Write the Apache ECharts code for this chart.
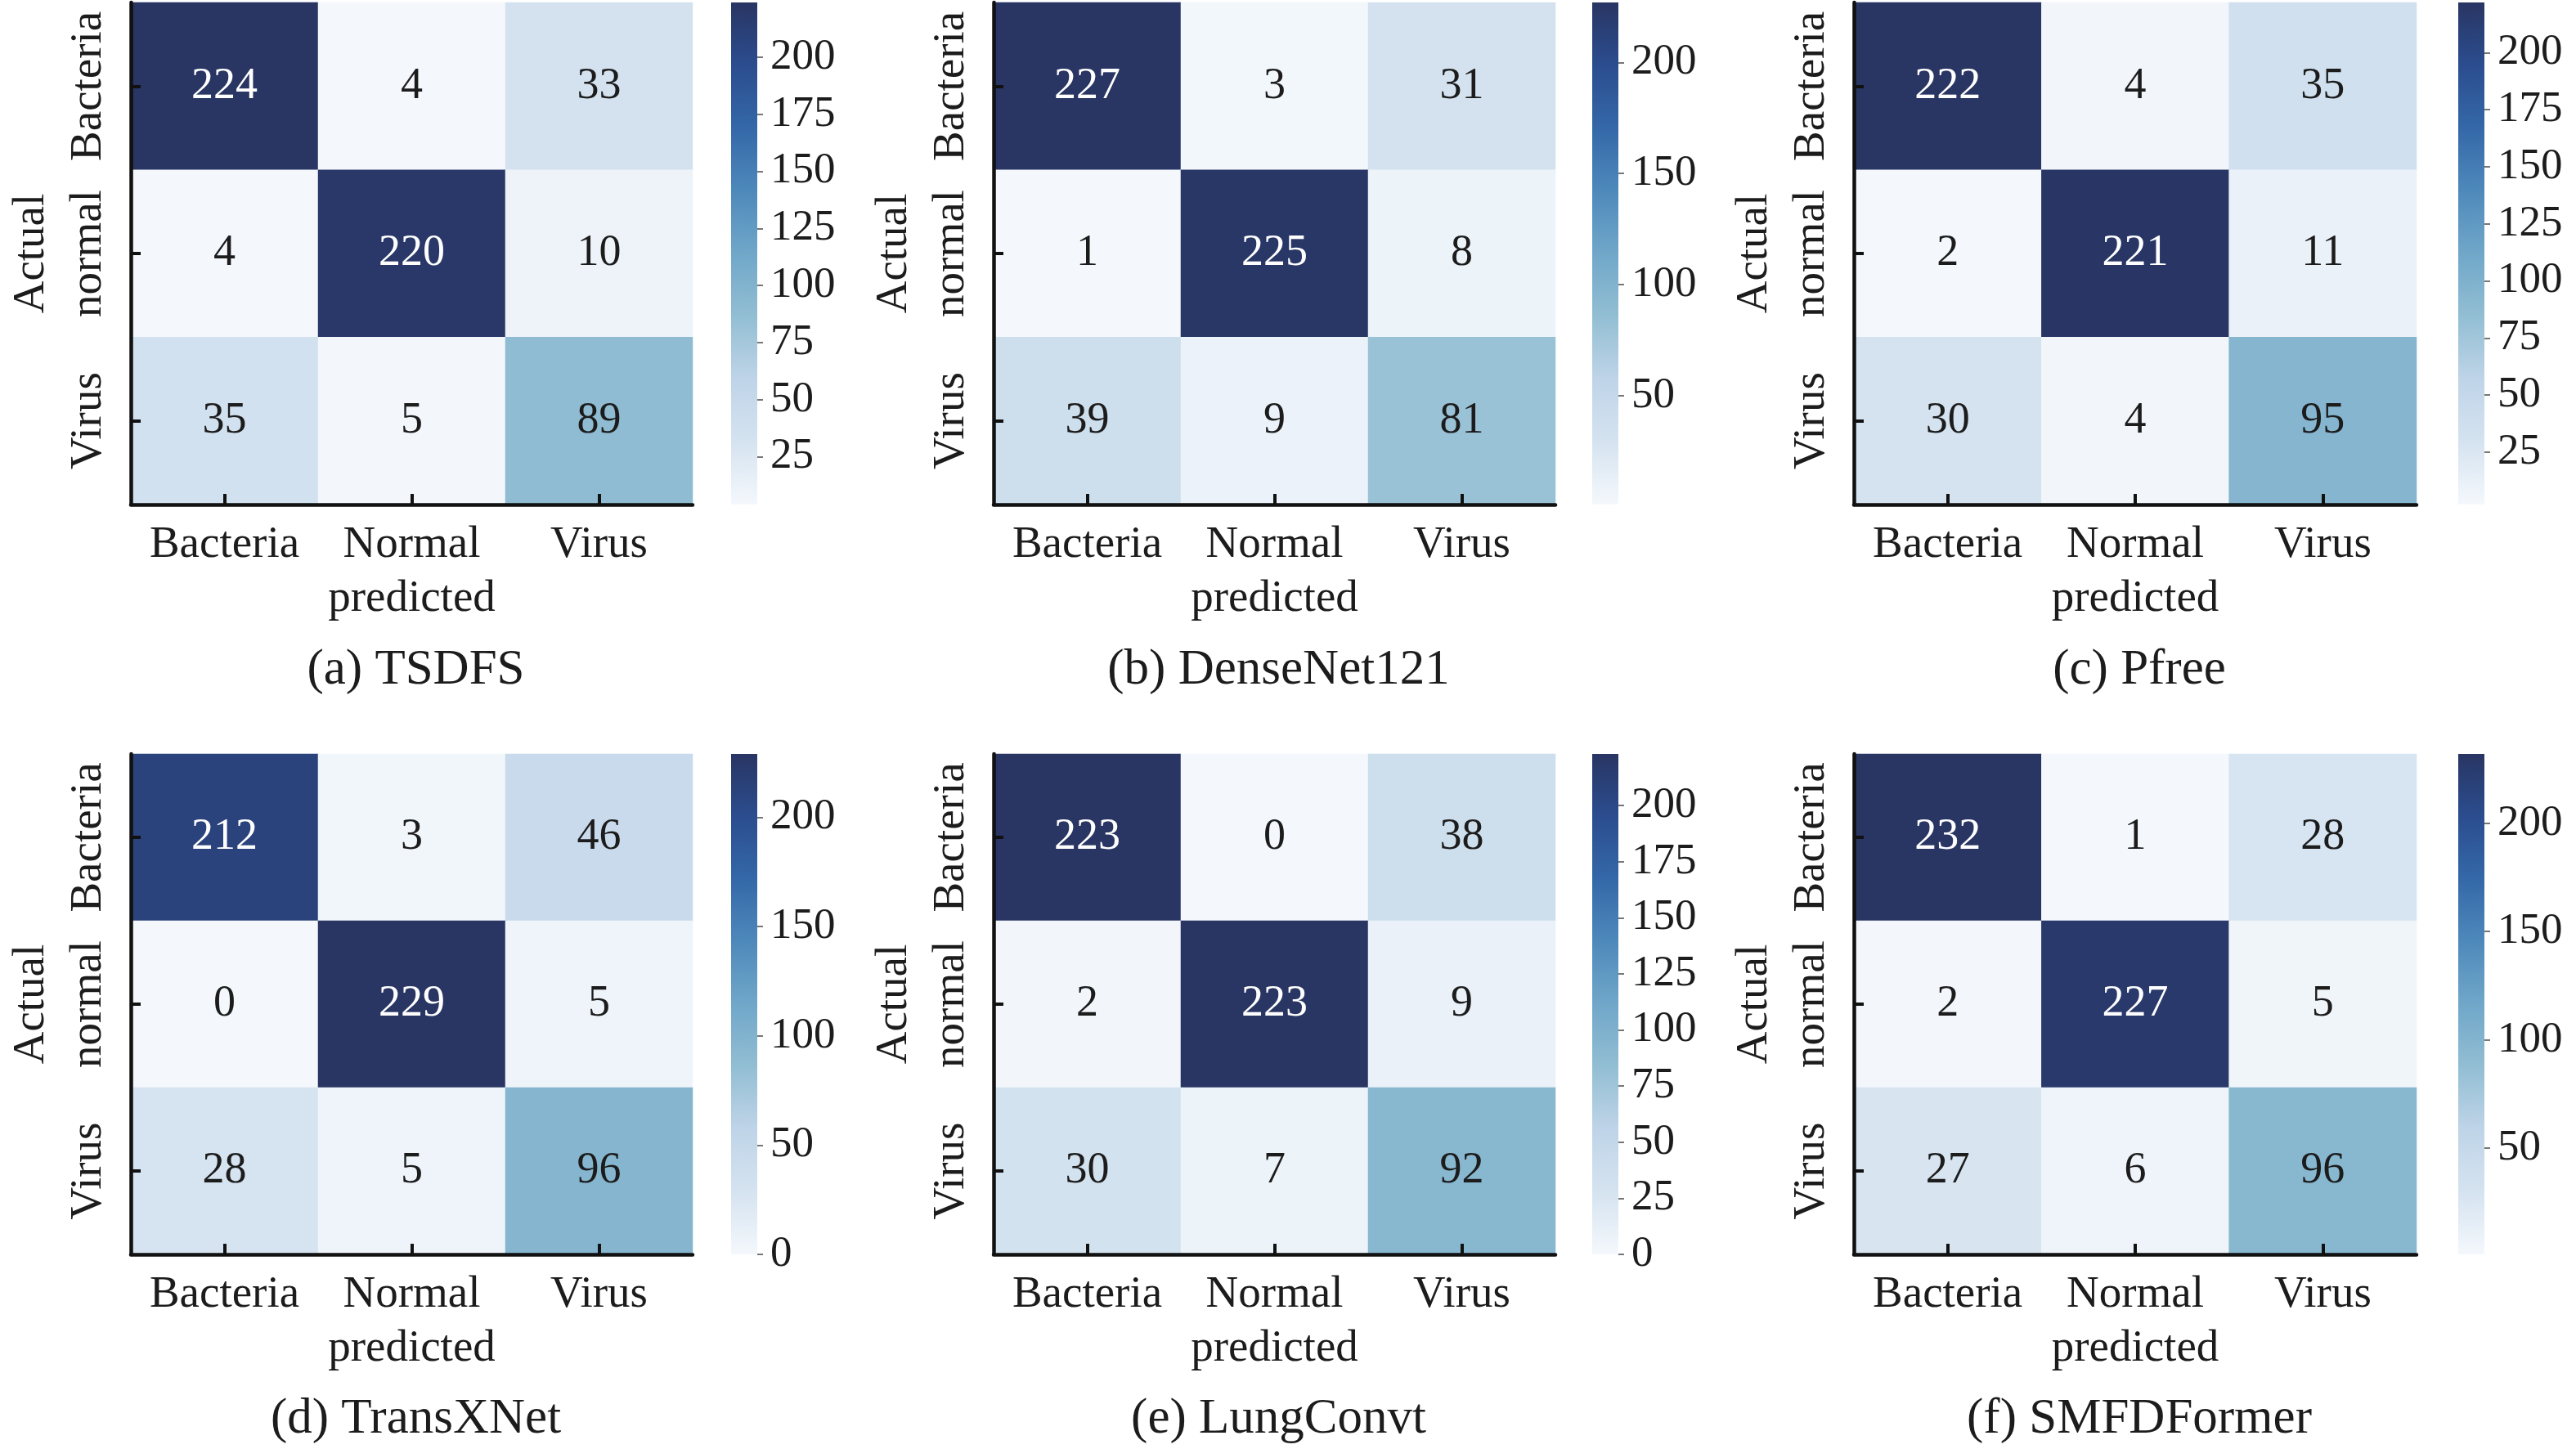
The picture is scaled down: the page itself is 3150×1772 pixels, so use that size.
<!DOCTYPE html>
<html><head><meta charset="utf-8">
<script src="https://cdn.jsdelivr.net/npm/echarts@6/dist/echarts.min.js"></script>
<style>html,body{margin:0;padding:0;background:#fff}#c{width:3150px;height:1772px}</style>
</head><body><div id="c"></div>
<script>
// ---------- data ----------
const predictedLabels = ['Bacteria', 'Normal', 'Virus'];
const actualLabels = ['Bacteria', 'normal', 'Virus'];
const captions = ['(a) TSDFS', '(b) DenseNet121', '(c) Pfree', '(d) TransXNet', '(e) LungConvt', '(f) SMFDFormer'];
const tsdfs      = [[224, 4, 33], [4, 220, 10], [35, 5, 89]];
const densenet   = [[227, 3, 31], [1, 225, 8], [39, 9, 81]];
const pfree      = [[222, 4, 35], [2, 221, 11], [30, 4, 95]];
const transxnet  = [[212, 3, 46], [0, 229, 5], [28, 5, 96]];
const lungconvt  = [[223, 0, 38], [2, 223, 9], [30, 7, 92]];
const smfdformer = [[232, 1, 28], [2, 227, 5], [27, 6, 96]];
const matrices = [tsdfs, densenet, pfree, transxnet, lungconvt, smfdformer];
const ticksA = [25, 50, 75, 100, 125, 150, 175, 200];
const ticksB = [50, 100, 150, 200];
const ticksC = [25, 50, 75, 100, 125, 150, 175, 200];
const ticksD = [0, 50, 100, 150, 200];
const ticksE = [0, 25, 50, 75, 100, 125, 150, 175, 200];
const ticksF = [50, 100, 150, 200];
const colorbarTicks = [ticksA, ticksB, ticksC, ticksD, ticksE, ticksF];

// ---------- style / layout ----------
const FONT = "'Liberation Serif', 'Times New Roman', 'DejaVu Serif', serif";
const TXT = '#1c1c1c';
const cmap = ['#f4f8fc', '#d5e3f0', '#bfd4e8', '#92bed3', '#70a7c9', '#4e89bb', '#3468a8', '#2b4d8f', '#293563'];
const colLeft = [160, 1215, 2267];
const colWidth = [687, 687, 688];
const cbLeft = [894, 1947, 3006];
const cbWidth = 32;
const rowTop = [3, 922];
const rowHeight = [614, 612];
const captionTop = [784, 1700];

const grid = [], xAxis = [], yAxis = [], series = [], visualMap = [], title = [];
const ranges = [];

matrices.forEach((m, i) => {
  const r = Math.floor(i / 3), c = i % 3;
  const flat = m.flat();
  const vmin = Math.min(...flat), vmax = Math.max(...flat);
  ranges.push([vmin, vmax]);
  grid.push({left: colLeft[c], top: rowTop[r], width: colWidth[c], height: rowHeight[r], containLabel: false});
  xAxis.push({
    type: 'category', gridIndex: i, data: predictedLabels, position: 'bottom', z: 10,
    axisLine: {show: true, lineStyle: {color: '#111', width: 4.5}},
    axisTick: {show: true, inside: true, alignWithLabel: true, length: 13, lineStyle: {color: '#111', width: 4}},
    axisLabel: {interval: 0, fontSize: 55, fontFamily: FONT, color: TXT, margin: 22},
    splitLine: {show: false},
    name: 'predicted', nameLocation: 'middle', nameGap: 88,
    nameTextStyle: {fontSize: 55, fontFamily: FONT, color: TXT}
  });
  yAxis.push({
    type: 'category', gridIndex: i, data: actualLabels, inverse: true, position: 'left', z: 10,
    axisLine: {show: true, lineStyle: {color: '#111', width: 4.5}},
    axisTick: {show: true, inside: true, alignWithLabel: true, length: 12, lineStyle: {color: '#111', width: 4}},
    axisLabel: {interval: 0, fontSize: 55, fontFamily: FONT, color: TXT, rotate: 90, margin: 24},
    splitLine: {show: false},
    name: 'Actual', nameLocation: 'middle', nameGap: 94, nameRotate: 90,
    nameTextStyle: {fontSize: 55, fontFamily: FONT, color: TXT}
  });
  const data = [];
  m.forEach((row, ri) => row.forEach((v, ci) => {
    const t = (v - vmin) / (vmax - vmin);
    data.push({value: [ci, ri, v], label: {color: t > 0.6 ? '#ffffff' : TXT}});
  }));
  series.push({
    type: 'heatmap', xAxisIndex: i, yAxisIndex: i, data: data, z: 2,
    label: {show: true, fontSize: 54, fontFamily: FONT},
    itemStyle: {borderWidth: 0},
    emphasis: {disabled: true}
  });
  visualMap.push({
    type: 'continuous', show: false, seriesIndex: series.length - 1, dimension: 2,
    min: vmin, max: vmax, inRange: {color: cmap}
  });
  title.push({
    text: captions[i], left: colLeft[c] + colWidth[c] / 2, top: captionTop[r], textAlign: 'center',
    textStyle: {fontSize: 61, fontFamily: FONT, color: TXT, fontWeight: 'normal'}
  });
});

matrices.forEach((m, i) => {
  const r = Math.floor(i / 3), c = i % 3;
  const [vmin, vmax] = ranges[i];
  const gi = grid.length;
  grid.push({left: cbLeft[c], top: rowTop[r], width: cbWidth, height: rowHeight[r], containLabel: false});
  xAxis.push({type: 'category', gridIndex: gi, data: ['cb'], show: false});
  yAxis.push({
    type: 'value', gridIndex: gi, min: vmin, max: vmax, position: 'right', z: 10,
    axisLine: {show: false},
    axisTick: {show: true, length: 7, customValues: colorbarTicks[i], lineStyle: {color: '#777', width: 2}},
    axisLabel: {show: true, customValues: colorbarTicks[i], fontSize: 53, fontFamily: FONT, color: TXT, margin: 16},
    splitLine: {show: false}
  });
  const stops = cmap.map((col, k) => ({offset: k / (cmap.length - 1), color: col}));
  series.push({
    type: 'custom', xAxisIndex: gi, yAxisIndex: gi,
    data: [[0, vmin, vmax]],
    encode: {x: 0, y: [1, 2]},
    renderItem: function (params, api) {
      const lo = api.coord([0, api.value(1)]);
      const hi = api.coord([0, api.value(2)]);
      const w = api.size([1, 0])[0];
      return {
        type: 'rect',
        shape: {x: lo[0] - w / 2, y: hi[1], width: w, height: lo[1] - hi[1]},
        style: {fill: {type: 'linear', x: 0, y: 1, x2: 0, y2: 0, colorStops: stops}}
      };
    },
    silent: true
  });
});

const chart = echarts.init(document.getElementById('c'), null, {renderer: 'canvas'});
chart.setOption({
  backgroundColor: '#ffffff',
  animation: false,
  title: title, grid: grid, xAxis: xAxis, yAxis: yAxis, visualMap: visualMap, series: series
});
</script>
</body></html>
